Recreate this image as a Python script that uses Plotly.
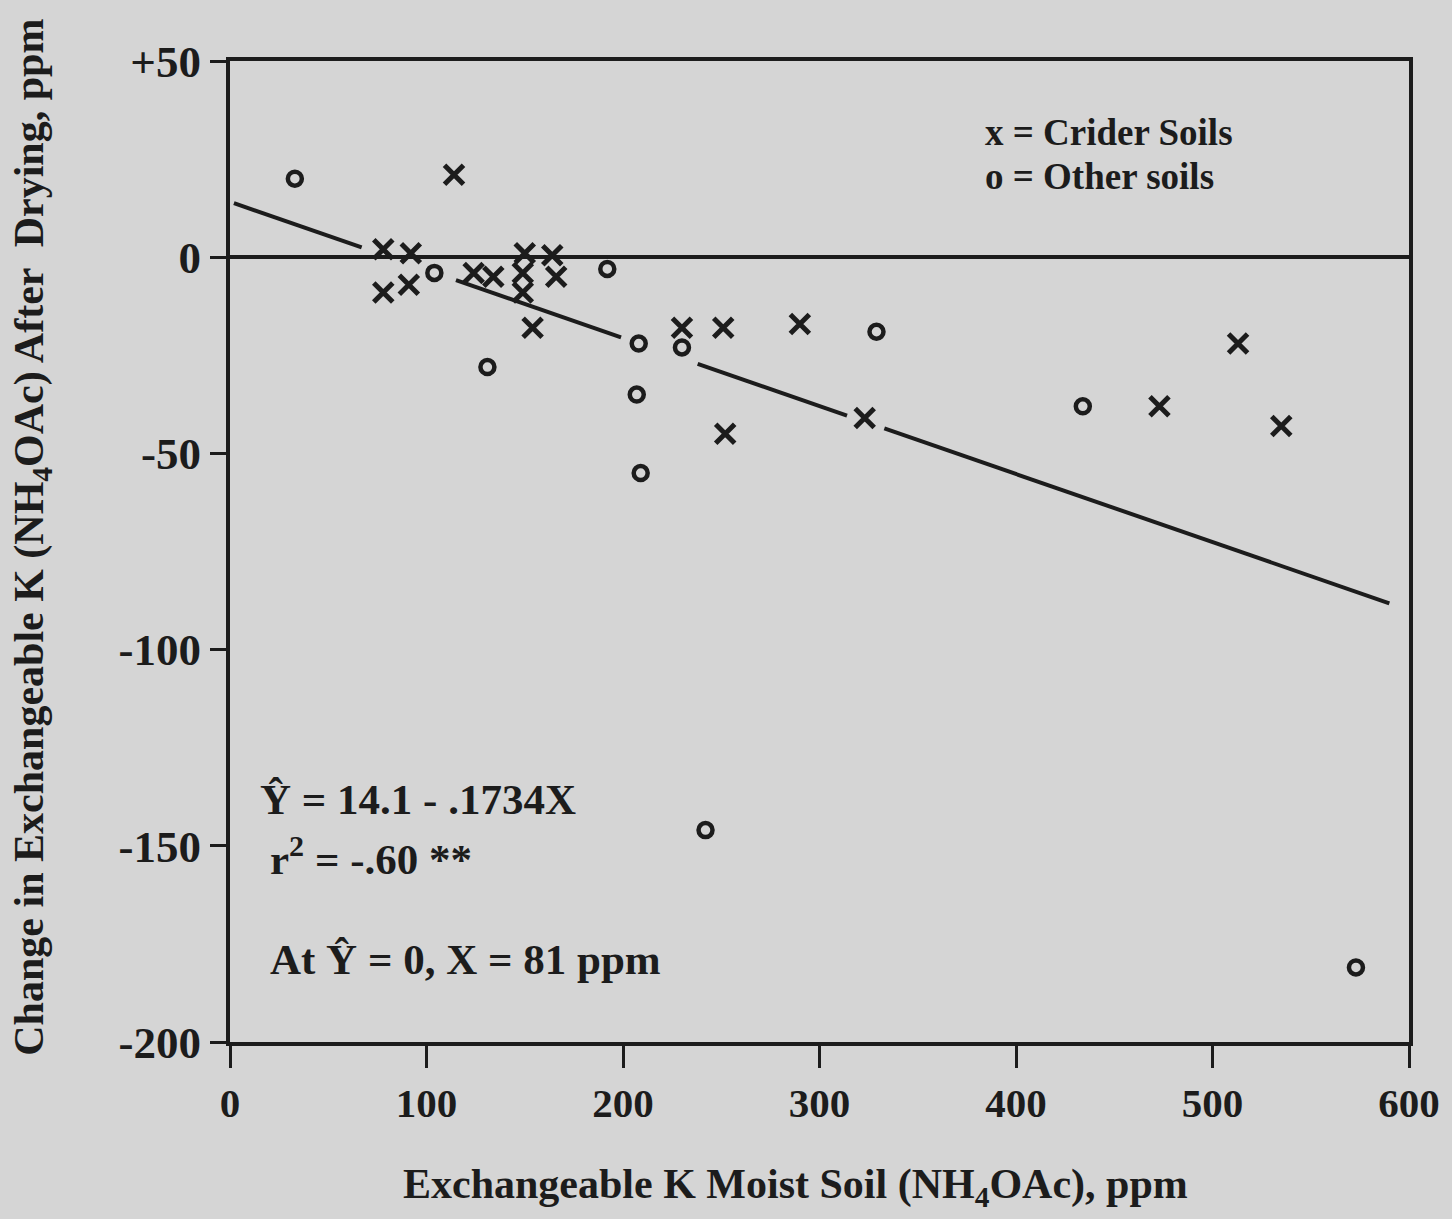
import plotly.graph_objects as go

# Crider soils (x markers)
crider_x = [114, 78, 92, 78, 91, 124, 134, 150, 149, 149, 154, 164, 166, 230, 251, 290, 252, 323, 473, 513, 535]
crider_y = [21, 2, 1, -9, -7, -4, -5, 1, -4, -9, -18, 0.5, -5, -18, -18, -17, -45, -41, -38, -22, -43]

# Other soils (o markers)
other_x = [33, 104, 192, 131, 208, 230, 329, 207, 209, 242, 434, 573]
other_y = [20, -4, -3, -28, -22, -23, -19, -35, -55, -146, -38, -181]

# Regression Y = 14.1 - .1734 X, drawn in segments (gaps around markers as in original)
intercept = 14.1
slope = -0.1734
reg_segments = [(2, 67), (115, 199), (238, 314), (333, 590)]

x_ticks = [0, 100, 200, 300, 400, 500, 600]
y_ticks = [50, 0, -50, -100, -150, -200]
y_ticklabels = ["+50", "0", "-50", "-100", "-150", "-200"]

FONT = "Liberation Serif, Times New Roman, serif"
INK = "#1c1c1c"
BG = "#d5d5d5"

reg_x, reg_y = [], []
for a, b in reg_segments:
    reg_x += [a, b, None]
    reg_y += [intercept + slope * a, intercept + slope * b, None]

fig = go.Figure()
fig.add_trace(go.Scatter(x=reg_x, y=reg_y, mode="lines",
                         line=dict(color=INK, width=4), showlegend=False, hoverinfo="skip"))
fig.add_trace(go.Scatter(x=crider_x, y=crider_y, mode="markers", name="Crider Soils",
                         marker=dict(symbol="x-thin", size=19, line=dict(color=INK, width=5)),
                         showlegend=False))
fig.add_trace(go.Scatter(x=other_x, y=other_y, mode="markers", name="Other soils",
                         marker=dict(symbol="circle-open", size=14, color=INK, line=dict(color=INK, width=4.5)),
                         showlegend=False))

fig.update_layout(
    width=1452, height=1219,
    paper_bgcolor=BG, plot_bgcolor=BG,
    margin=dict(l=230, r=38, t=61, b=177),
    font=dict(family=FONT, color=INK, size=40, weight="bold"),
    showlegend=False,
)
fig.update_xaxes(range=[0, 600], tickvals=x_ticks, ticktext=[str(v) for v in x_ticks],
                 showline=True, linecolor=INK, linewidth=4, mirror=True,
                 ticks="outside", ticklen=22, tickwidth=3, tickcolor=INK,
                 showgrid=False, zeroline=False,
                 tickfont=dict(family=FONT, size=41, color=INK, weight="bold"))
fig.update_yaxes(range=[-200, 50], tickvals=y_ticks, ticktext=y_ticklabels,
                 showline=True, linecolor=INK, linewidth=4, mirror=True,
                 ticks="outside", ticklen=16, tickwidth=3, tickcolor=INK,
                 showgrid=False, zeroline=True, zerolinecolor=INK, zerolinewidth=4,
                 tickfont=dict(family=FONT, size=45, color=INK, weight="bold"))

ann_font = dict(family=FONT, color=INK, weight="bold")
annotations = [
    dict(text="Exchangeable K Moist Soil (NH<sub>4</sub>OAc), ppm", x=0.48, y=-0.148,
         xref="paper", yref="paper", showarrow=False, xanchor="center", yanchor="middle",
         font=dict(size=42, **ann_font)),
    dict(text="Change in Exchangeable K (NH<sub>4</sub>OAc) After  Drying, ppm", x=-0.168, y=0.515,
         xref="paper", yref="paper", showarrow=False, xanchor="center", yanchor="middle",
         textangle=-90, font=dict(size=42, **ann_font)),
    dict(text="x = Crider Soils", x=0.639, y=0.927, xref="paper", yref="paper",
         showarrow=False, xanchor="left", yanchor="middle", font=dict(size=37, **ann_font)),
    dict(text="o = Other soils", x=0.639, y=0.882, xref="paper", yref="paper",
         showarrow=False, xanchor="left", yanchor="middle", font=dict(size=37, **ann_font)),
    dict(text="Ŷ = 14.1 - .1734X", x=0.024, y=0.247, xref="paper", yref="paper",
         showarrow=False, xanchor="left", yanchor="middle", font=dict(size=43, **ann_font)),
    dict(text="r<sup>2</sup> = -.60 **", x=0.032, y=0.19, xref="paper", yref="paper",
         showarrow=False, xanchor="left", yanchor="middle", font=dict(size=43, **ann_font)),
    dict(text="At Ŷ = 0, X = 81 ppm", x=0.032, y=0.084, xref="paper", yref="paper",
         showarrow=False, xanchor="left", yanchor="middle", font=dict(size=43, **ann_font)),
]
fig.update_layout(annotations=annotations)

fig.write_html("out.html", config={"displayModeBar": False},
               post_script="document.body.style.margin='0';")
